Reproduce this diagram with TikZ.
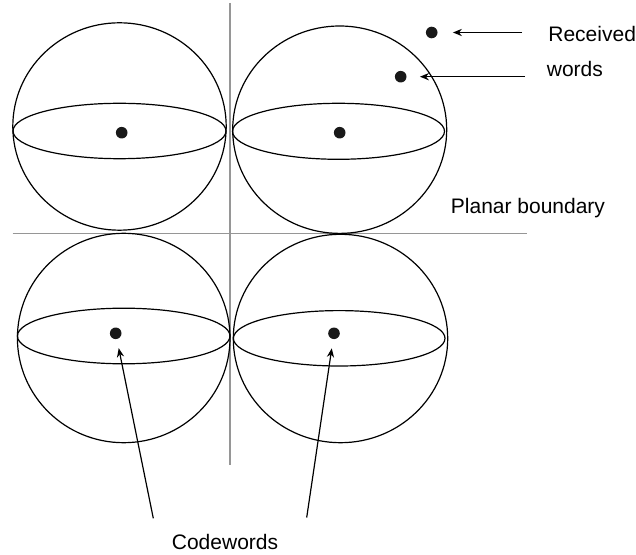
\documentclass[tikz,border=0pt]{standalone}
\usepackage{fontspec}
\setmainfont{Liberation Sans}
\usepackage{xcolor}
\usepackage{tikz}
\usetikzlibrary{arrows.meta}
\definecolor{bound}{RGB}{150,150,150}

\begin{document}
\begin{tikzpicture}[
  x=0.5pt,y=-0.5pt,
  sph/.style={draw,line width=0.6pt},
  dot/.style={circle,fill=black!90,inner sep=0pt,minimum size=5.8pt},
  lbl/.style={anchor=base west,inner sep=0pt,font=\fontsize{10.5pt}{12pt}\selectfont},
  plane/.style={draw=bound,line width=0.6pt},
  ar/.style={line width=0.6pt,-{Stealth[length=4.5pt,width=3.6pt]}}
]
\useasboundingbox (0,0) rectangle (636,555);
\draw[plane] (230,3) -- (230,464.5);
\draw[plane] (12.7,233.8) -- (527.3,233.8);
\draw[sph] (119.5,126.5) ellipse [x radius=106.7,y radius=103.7];
\draw[sph] (119.5,131) ellipse [x radius=106.5,y radius=27.7];
\draw[sph] (339.7,129.7) ellipse [x radius=107,y radius=103.7];
\draw[sph] (338.5,131.3) ellipse [x radius=106,y radius=28];
\draw[sph] (123.7,338) ellipse [x radius=106.3,y radius=104.7];
\draw[sph] (123.7,336) ellipse [x radius=106.3,y radius=27.8];
\draw[sph] (340.5,338.5) ellipse [x radius=107.2,y radius=104.2];
\draw[sph] (339.2,338.3) ellipse [x radius=105.8,y radius=27.7];
\node[dot] (c1) at (121.7,132.7) {};
\node[dot] (c2) at (339.7,132.7) {};
\node[dot] (c3) at (115.7,333.3) {};
\node[dot] (c4) at (334,333.3) {};
\node[dot] (r1) at (431.7,32.5) {};
\node[dot] (r2) at (400.7,76.7) {};
\node[lbl] (rec) at (548,41.7) {Received};
\node[lbl] (wrd) at (546.5,76.7) {words};
\node[lbl] (pb) at (450.5,214) {Planar boundary};
\node[lbl] (cw) at (171.5,549.3) {Codewords};
\coordinate (r1s) at (522,32.5);
\coordinate (r2s) at (525,76.7);
\coordinate (c3s) at (153.3,518.3);
\coordinate (c4s) at (306.7,517.5);
\draw[ar,shorten >=7.5pt] (r1s) -- (r1);
\draw[ar,shorten >=6.5pt] (r2s) -- (r2);
\draw[ar,shorten >=4.5pt] (c3s) -- (c3);
\draw[ar,shorten >=4.5pt] (c4s) -- (c4);
\end{tikzpicture}
\end{document}
